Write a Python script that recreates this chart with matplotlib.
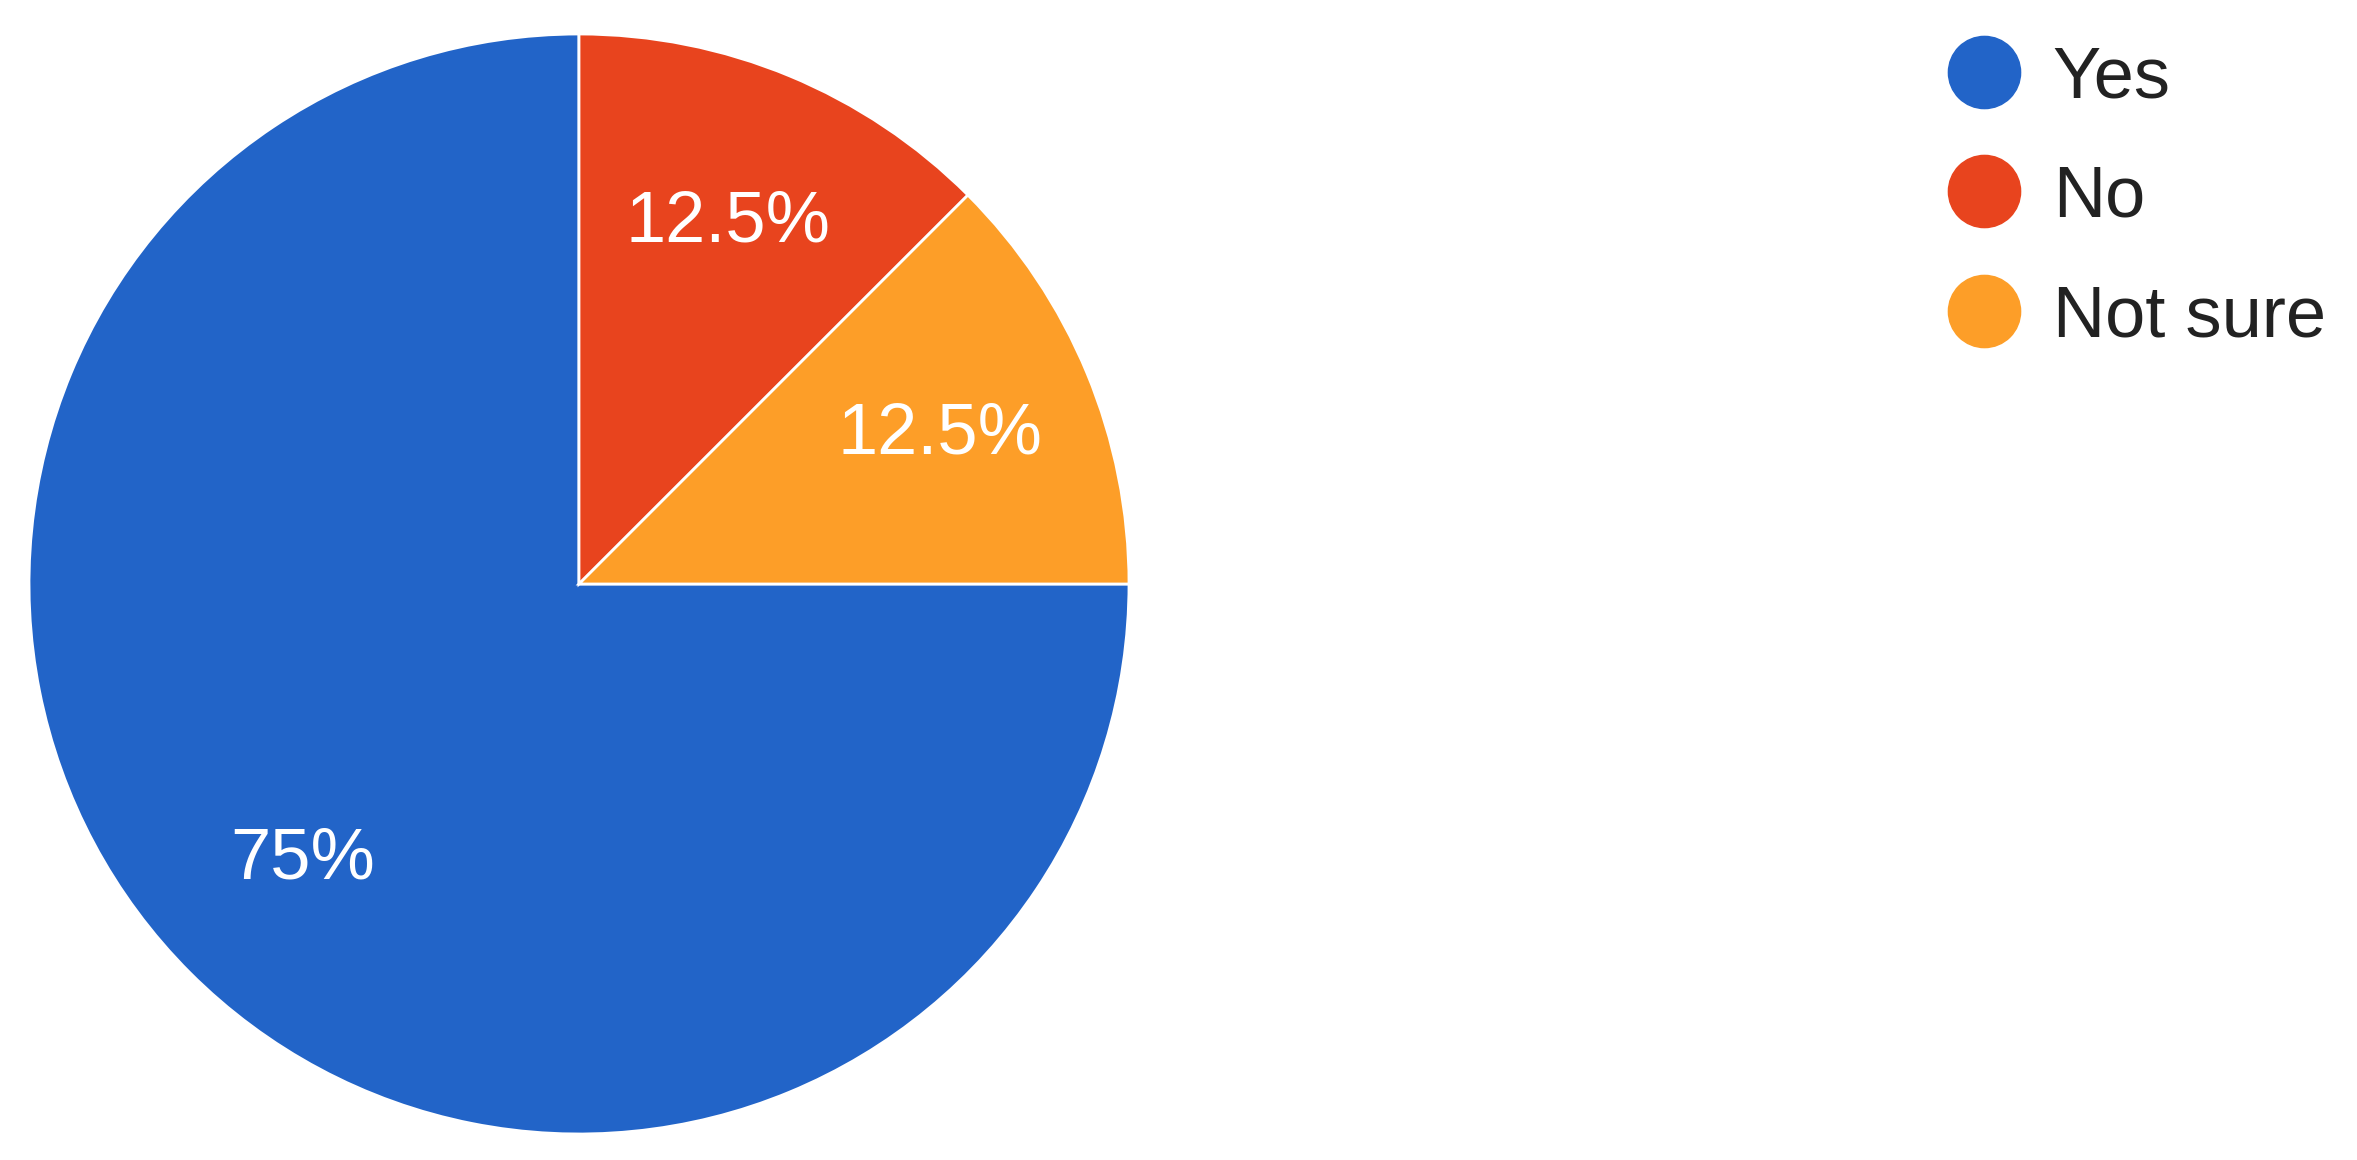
import matplotlib.pyplot as plt
from matplotlib.lines import Line2D

labels = ['Yes', 'No', 'Not sure']
values = [75, 12.5, 12.5]
colors = ['#2264c8', '#e8441e', '#fd9e28']

plt.rcParams['font.family'] = ['Liberation Sans', 'DejaVu Sans']

W, H = 2357, 1160
fig = plt.figure(figsize=(W / 100, H / 100), dpi=100)

# pie centre and radius in pixels
cx, cy, r = 579, 584, 550
ax = fig.add_axes([(cx - r) / W, (H - cy - r) / H, 2 * r / W, 2 * r / H])

wedges, texts, autotexts = ax.pie(
    values, colors=colors, startangle=0, counterclock=False,
    autopct=lambda p: f'{round(p, 1):g}%', pctdistance=0.71,
    wedgeprops=dict(edgecolor='white', linewidth=2),
    textprops=dict(color='white', fontsize=52))
ax.set_xlim(-1.0, 1.0)
ax.set_ylim(-1.0, 1.0)
ax.set_aspect('equal')

handles = [Line2D([], [], marker='o', linestyle='none', markersize=52,
                  markerfacecolor=c, markeredgecolor=c) for c in colors]
fig.legend(handles, labels, loc='upper left',
           bbox_to_anchor=(1948 / W, 1 - 45 / H), frameon=False,
           fontsize=52, handlelength=1, handletextpad=0.45,
           labelspacing=0.73, borderpad=0, borderaxespad=0,
           labelcolor='#222222')

fig.savefig('out.png', dpi=100, facecolor='white')
